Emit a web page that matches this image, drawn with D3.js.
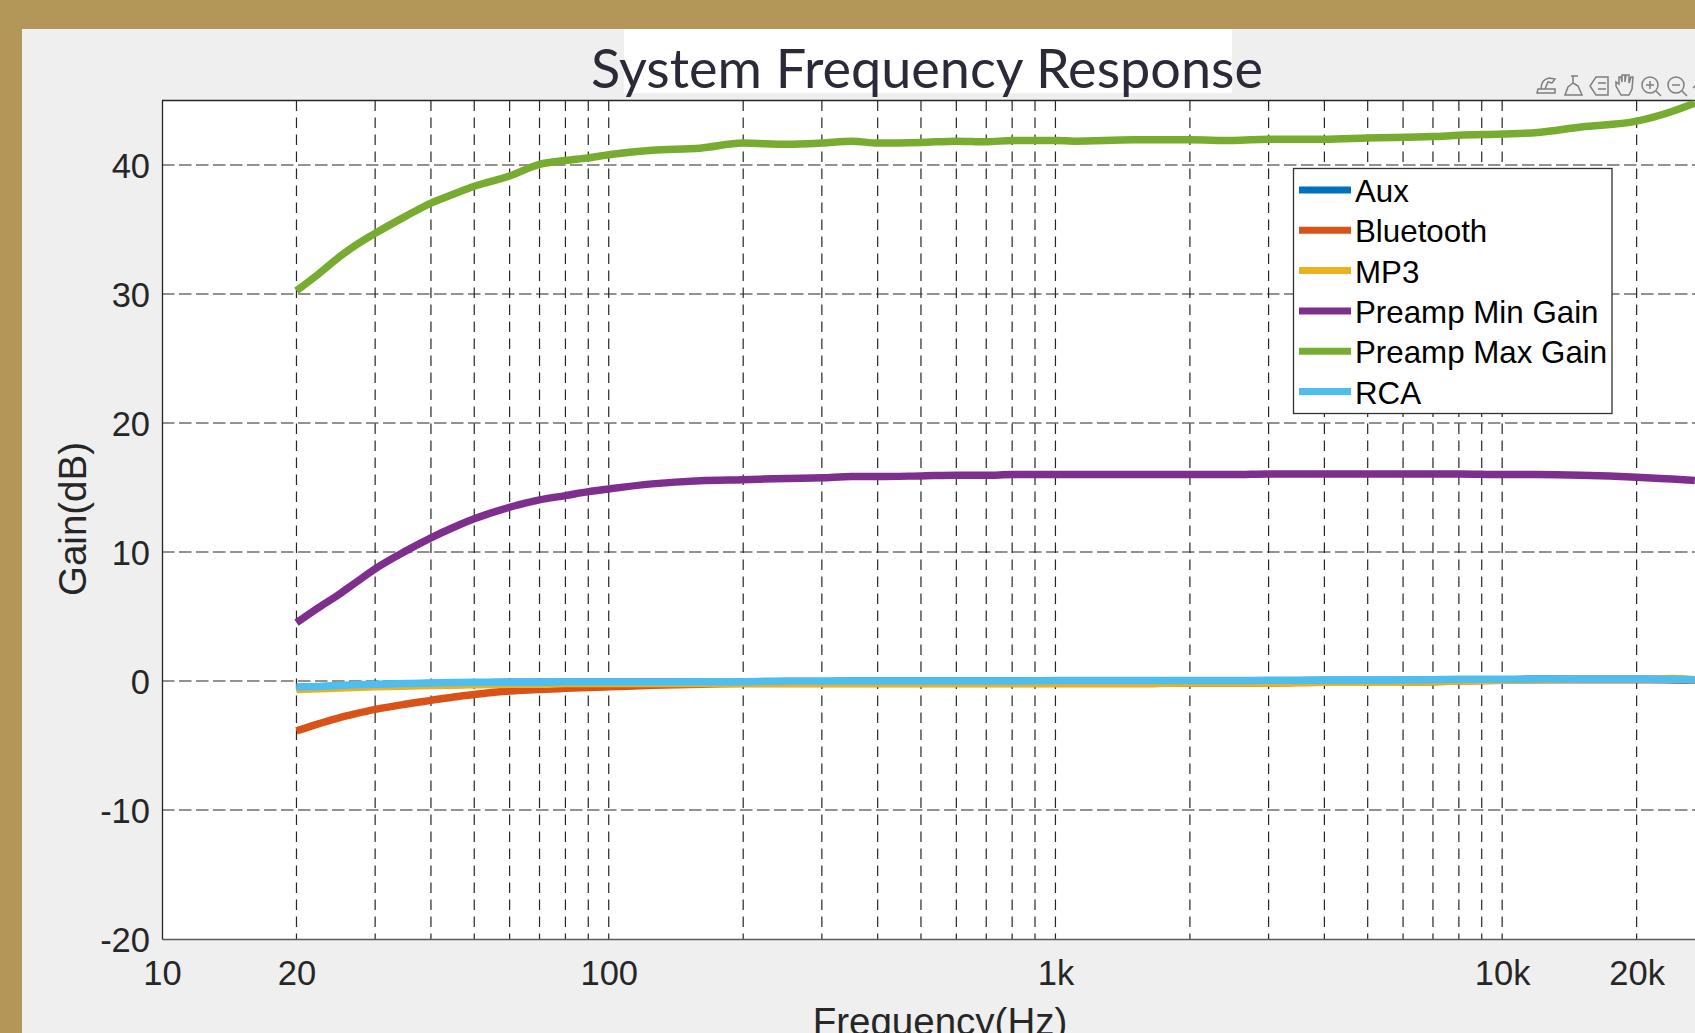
<!DOCTYPE html>
<html>
<head>
<meta charset="utf-8">
<script src="https://cdn.jsdelivr.net/npm/d3@7"></script>
<style>
    html, body { margin: 0; padding: 0; width: 1695px; height: 1033px; overflow: hidden; background: #b29758; }
    svg { display: block; }
    text { font-family: "Liberation Sans", Arial, sans-serif; fill: #262626; }
</style>
</head>
<body>
<div id="chart"></div>
<script>
// Values
const freqs = [20, 22.5, 25, 27, 30, 35, 40, 45, 50, 60, 70, 80, 90, 100, 125, 160, 200, 250, 300, 350, 400, 500, 600, 700, 800, 1000, 1100, 1500, 2000, 2500, 3000, 4000, 5000, 7000, 8000, 10000, 12000, 15000, 20000, 24000, 27000];
const aux = [-0.5, -0.44, -0.4, -0.33, -0.3, -0.22, -0.2, -0.17, -0.15, -0.1, -0.1, -0.1, -0.1, -0.1, -0.05, -0.05, -0.05, -0.05, -0.05, 0, 0, 0, 0, 0, 0, 0, 0, 0, 0, 0, 0, 0.05, 0.05, 0.05, 0.1, 0.1, 0.15, 0.15, 0.15, 0.1, 0.05];
const bluetooth = [-3.87, -3.3, -2.83, -2.55, -2.2, -1.8, -1.5, -1.24, -1.05, -0.78, -0.65, -0.57, -0.5, -0.45, -0.33, -0.25, -0.2, -0.2, -0.2, -0.2, -0.2, -0.2, -0.2, -0.2, -0.2, -0.2, -0.2, -0.2, -0.15, -0.15, -0.15, -0.1, -0.1, -0.05, 0, 0.05, 0.1, 0.1, 0.1, 0.1, 0.05];
const mp3 = [-0.65, -0.6, -0.55, -0.5, -0.45, -0.4, -0.35, -0.32, -0.3, -0.25, -0.25, -0.2, -0.2, -0.2, -0.2, -0.2, -0.2, -0.2, -0.2, -0.2, -0.2, -0.2, -0.2, -0.2, -0.2, -0.2, -0.2, -0.2, -0.15, -0.15, -0.15, -0.1, -0.1, -0.05, 0, 0.05, 0.1, 0.15, 0.15, 0.2, 0.1];
const preampMin = [4.52, 5.73, 6.76, 7.58, 8.7, 10.05, 11.1, 11.92, 12.57, 13.47, 14.04, 14.37, 14.68, 14.89, 15.28, 15.53, 15.61, 15.7, 15.75, 15.85, 15.85, 15.9, 15.95, 15.95, 16, 16, 16, 16, 16, 16, 16.05, 16.05, 16.05, 16.05, 16.05, 16, 16, 15.95, 15.8, 15.65, 15.55];
const preampMax = [30.25, 31.6, 32.9, 33.73, 34.7, 36, 37.05, 37.75, 38.35, 39.15, 40.05, 40.35, 40.55, 40.8, 41.15, 41.3, 41.7, 41.6, 41.7, 41.85, 41.7, 41.75, 41.85, 41.8, 41.9, 41.9, 41.85, 41.95, 41.95, 41.9, 42, 42, 42.1, 42.2, 42.3, 42.4, 42.52, 42.95, 43.4, 44.15, 44.8];
const rca = [-0.47, -0.42, -0.35, -0.3, -0.25, -0.2, -0.15, -0.12, -0.1, -0.1, -0.1, -0.05, -0.05, -0.05, -0.05, -0.05, -0.05, 0, 0, 0, 0, 0, 0, 0, 0, 0.04, 0.04, 0.04, 0.04, 0.04, 0.05, 0.05, 0.05, 0.1, 0.13, 0.13, 0.15, 0.15, 0.15, 0.13, 0.1];

const seriesNames = ['Aux', 'Bluetooth', 'MP3', 'Preamp Min Gain', 'Preamp Max Gain', 'RCA'];
const seriesValues = [aux, bluetooth, mp3, preampMin, preampMax, rca];
const seriesColors = ['#0072bd', '#d95319', '#edb120', '#7e2f8e', '#77ac30', '#4dbeee'];

const xMajor = [10, 20, 100, 1000, 10000, 20000];
const xMajorLabels = ['10', '20', '100', '1k', '10k', '20k'];
const xMinor = [30, 40, 50, 60, 70, 80, 90, 200, 300, 400, 500, 600, 700, 800, 900, 2000, 3000, 4000, 5000, 6000, 7000, 8000, 9000];
const yTicks = [-20, -10, 0, 10, 20, 30, 40];

const plot = { left: 162, top: 100.5, bottom: 939, right: 1715.3 };

const svg = d3.select('#chart')
    .append('svg')
    .attr('width', 1695)
    .attr('height', 1033);

// Panel
svg.append('rect').attr('x', 22).attr('y', 29).attr('width', 1673).attr('height', 1004).attr('fill', '#efefef');
svg.append('rect').attr('x', 624).attr('y', 29).attr('width', 608).attr('height', 64).attr('fill', '#ffffff');
svg.append('rect')
    .attr('x', plot.left).attr('y', plot.top)
    .attr('width', plot.right - plot.left).attr('height', plot.bottom - plot.top)
    .attr('fill', '#ffffff');

const xScale = d3.scaleLog().domain([10, 30000]).range([plot.left, plot.right]);
const yScale = d3.scaleLinear().domain([-20, 45]).range([plot.bottom, plot.top]);

svg.append('defs').append('clipPath').attr('id', 'plot-clip')
    .append('rect')
    .attr('x', plot.left).attr('y', plot.top)
    .attr('width', plot.right - plot.left).attr('height', plot.bottom - plot.top);

// Grid lines
const grid = svg.append('g').attr('fill', 'none').attr('stroke', '#262626').attr('stroke-width', 1.2);
grid.selectAll('.vgrid')
    .data(xMajor.slice(1).concat(xMinor))
    .enter().append('line')
    .attr('class', 'vgrid')
    .attr('stroke-dasharray', '10.5,6.5')
    .attr('x1', d => xScale(d)).attr('x2', d => xScale(d))
    .attr('y1', plot.top).attr('y2', plot.bottom);
grid.selectAll('.hgrid')
    .data(yTicks.slice(1))
    .enter().append('line')
    .attr('class', 'hgrid')
    .attr('stroke-dasharray', '12.5,4.5')
    .attr('x1', plot.left).attr('x2', plot.right)
    .attr('y1', d => yScale(d)).attr('y2', d => yScale(d));

// Axes
const xAxis = svg.append('g')
    .attr('transform', `translate(0,${plot.bottom})`)
    .call(d3.axisBottom(xScale).tickValues(xMajor).tickFormat((d, i) => xMajorLabels[i]).tickSize(0).tickPadding(22))
    .call(g => g.select('.domain').attr('stroke', '#5a5a5a').attr('stroke-width', 1.6));
xAxis.selectAll('text').attr('font-size', 34.5).style('font-family', '"Liberation Sans"').style('fill', '#262626');

const yAxis = svg.append('g')
    .attr('transform', `translate(${plot.left},0)`)
    .call(d3.axisLeft(yScale).tickValues(yTicks).tickFormat(d => String(d)).tickSize(0).tickPadding(12))
    .call(g => g.select('.domain').attr('stroke', '#262626').attr('stroke-width', 1.3));
yAxis.selectAll('text').attr('font-size', 34.5).attr('dy', '0.36em').style('font-family', '"Liberation Sans"').style('fill', '#262626');

svg.append('line')
    .attr('x1', plot.left).attr('x2', plot.right)
    .attr('y1', plot.top).attr('y2', plot.top)
    .attr('stroke', '#262626').attr('stroke-width', 1.3);

// Series lines
const line = d3.line()
    .x((d, i) => xScale(freqs[i]))
    .y(d => yScale(d))
    .curve(d3.curveMonotoneX);

svg.append('g').attr('clip-path', 'url(#plot-clip)')
    .selectAll('path')
    .data(seriesValues)
    .enter().append('path')
    .attr('d', d => line(d))
    .attr('fill', 'none')
    .attr('stroke', (d, i) => seriesColors[i])
    .attr('stroke-width', 7.5);

// Title and axis labels
svg.append('text')
    .attr('x', 927).attr('y', 88)
    .attr('text-anchor', 'middle')
    .style('font-family', 'Lato')
    .style('fill', '#2a2a38')
    .attr('font-size', 54)
    .text('System Frequency Response');

svg.append('text')
    .attr('x', 940).attr('y', 1034.5)
    .attr('text-anchor', 'middle')
    .attr('font-size', 38.5)
    .text('Frequency(Hz)');

svg.append('text')
    .attr('transform', 'rotate(-90)')
    .attr('x', -519).attr('y', 86)
    .attr('text-anchor', 'middle')
    .attr('font-size', 38.5)
    .text('Gain(dB)');

// Legend
const legendY = d3.scalePoint().domain(seriesNames).range([190, 391.5]);
svg.append('rect')
    .attr('x', 1293.5).attr('y', 168.5).attr('width', 318.5).attr('height', 245)
    .attr('fill', '#ffffff').attr('stroke', '#333333').attr('stroke-width', 1.3);
const legend = svg.append('g').selectAll('g')
    .data(seriesNames)
    .enter().append('g')
    .attr('transform', d => `translate(0,${legendY(d)})`);
legend.append('line')
    .attr('x1', 1299).attr('x2', 1351)
    .attr('stroke', (d, i) => seriesColors[i])
    .attr('stroke-width', 7);
legend.append('text')
    .attr('x', 1355).attr('y', 12)
    .attr('font-size', 31.3)
    .style('fill', '#000000')
    .text(d => d);

// Figure toolbar glyphs
const toolbar = svg.append('g').attr('fill', 'none').attr('stroke', '#7f7f7f').attr('stroke-width', 1.5);
toolbar.append('path').attr('d', 'M1537 93h18v-4h-17zM1541 89c0-6 3-10 8-11l6 1-3 4-4-1-3 7');
toolbar.append('path').attr('d', 'M1571 76h7M1573 76v7l5 3 4 9h-17l3-8 5-4');
toolbar.append('path').attr('d', 'M1596 77h12v18h-12l-6-9zM1598 83h8M1598 89h8');
toolbar.append('path').attr('d', 'M1621 95l-5-9v-4l3 2v-7l2 0 1 5v-7h3v7l1-7h3v8l2-6h2l-1 12-3 6z');
toolbar.append('circle').attr('cx', 1650).attr('cy', 85).attr('r', 8);
toolbar.append('path').attr('d', 'M1646 85h8M1650 81v8M1656 91l5 5');
toolbar.append('circle').attr('cx', 1676).attr('cy', 85).attr('r', 8);
toolbar.append('path').attr('d', 'M1672 85h8M1682 91l5 5');
toolbar.append('path').attr('d', 'M1693 88l4-4');
</script>
</body>
</html>
